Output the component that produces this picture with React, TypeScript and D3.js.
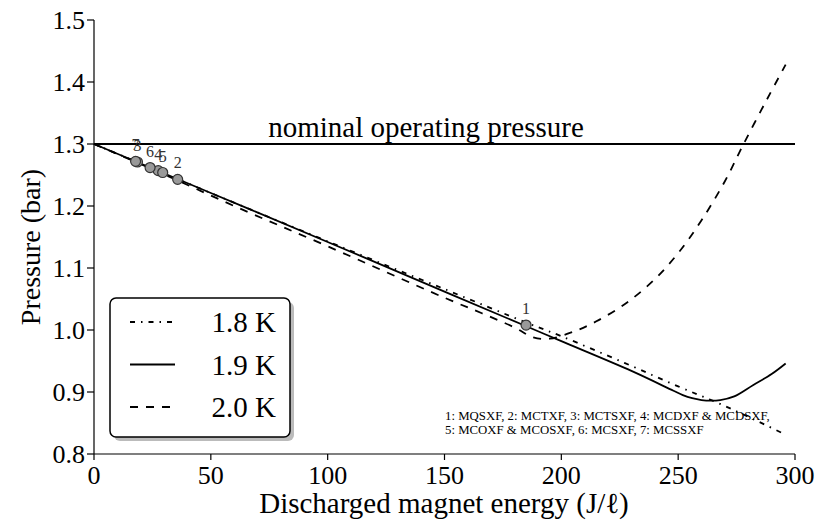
import React from "react";
import * as d3 from "d3";

const xTicks = [0, 50, 100, 150, 200, 250, 300];
const yTicks = [0.8, 0.9, 1.0, 1.1, 1.2, 1.3, 1.4, 1.5];

const series18: [number, number][] = [
  [0, 1.3], [50, 1.221], [100, 1.143], [150, 1.066], [185, 1.012], [200, 0.99],
  [227, 0.947], [250, 0.909], [266, 0.884], [280, 0.86], [295, 0.833],
];
const series19: [number, number][] = [
  [0, 1.3], [50, 1.221], [100, 1.142], [150, 1.062], [185, 1.006], [200, 0.982],
  [230, 0.934], [248, 0.902], [252, 0.895], [256, 0.89], [260, 0.887], [264, 0.886],
  [268, 0.887], [274, 0.893], [282, 0.911], [290, 0.929], [296, 0.946],
];
const series20: [number, number][] = [
  [0, 1.3], [30, 1.251], [60, 1.2], [100, 1.135], [150, 1.052], [166, 1.027],
  [180, 1.004], [188, 0.988], [195, 0.986], [205, 0.997], [215, 1.014], [228, 1.044],
  [240, 1.082], [250, 1.124], [260, 1.177], [270, 1.24], [278, 1.3], [288, 1.372], [296, 1.428],
];

const magnetIds = ["1", "2", "3", "4", "5", "6", "7"];
const magnetEnergy = [184.9, 35.8, 18.6, 27.5, 29.4, 24.0, 17.8];
const magnetPressure = [1.008, 1.243, 1.271, 1.257, 1.254, 1.262, 1.272];

const legendLabels = ["1.8 K", "1.9 K", "2.0 K"];
const legendDash = ["5,6,1.5,6", "", "8,8"];

const nominalPressure = 1.3;

export default function App() {
  const x = d3.scaleLinear().domain([0, 300]).range([94, 795]);
  const y = d3.scaleLinear().domain([0.8, 1.5]).range([454, 20]);
  const line = d3
    .line<[number, number]>()
    .x((d) => x(d[0]))
    .y((d) => y(d[1]))
    .curve(d3.curveCatmullRom.alpha(0.5));

  const tf = { fontFamily: "Liberation Serif, 'Times New Roman', serif" };
  const seriesList = [series18, series19, series20];

  return (
    <svg
      width={819}
      height={521}
      style={{ position: "absolute", left: 0, top: 0, background: "#fff" }}
    >
      <rect x={0} y={0} width={819} height={521} fill="#fff" />
      <line x1={x(0)} x2={x(300)} y1={y(nominalPressure)} y2={y(nominalPressure)} stroke="#000" strokeWidth={1.8} />
      <text x={426} y={137} fontSize={29} textAnchor="middle" style={tf}>nominal operating pressure</text>

      {seriesList.map((s, i) => (
        <path key={i} d={line(s) || ""} fill="none" stroke="#000" strokeWidth={1.8} strokeDasharray={legendDash[i] || undefined} />
      ))}

      {magnetIds.map((id, i) => (
        <g key={id}>
          <circle cx={x(magnetEnergy[i])} cy={y(magnetPressure[i])} r={5} fill="#999" stroke="#333" strokeWidth={1.2} />
          <text x={x(magnetEnergy[i])} y={y(magnetPressure[i]) - 11} fontSize={16} textAnchor="middle" fill="#333" style={tf}>{id}</text>
        </g>
      ))}

      <line x1={x(0)} x2={x(300)} y1={y(0.8)} y2={y(0.8)} stroke="#000" strokeWidth={1.2} />
      <line x1={x(0)} x2={x(0)} y1={y(0.8)} y2={y(1.5)} stroke="#000" strokeWidth={1.2} />
      {xTicks.map((t) => (
        <g key={t}>
          <line x1={x(t)} x2={x(t)} y1={y(0.8)} y2={y(0.8) + 6} stroke="#000" strokeWidth={1.2} />
          <text x={x(t)} y={y(0.8) + 30} fontSize={26} textAnchor="middle" style={tf}>{t}</text>
        </g>
      ))}
      {yTicks.map((t) => (
        <g key={t}>
          <line x1={x(0) - 7} x2={x(0)} y1={y(t)} y2={y(t)} stroke="#000" strokeWidth={1.2} />
          <text x={x(0) - 9} y={y(t) + 9} fontSize={26} textAnchor="end" style={tf}>{t.toFixed(1)}</text>
        </g>
      ))}
      <text x={444} y={513} fontSize={29} textAnchor="middle" style={tf}>Discharged magnet energy (J/ℓ)</text>
      <text transform={`translate(40,${247}) rotate(-90)`} fontSize={28} textAnchor="middle" style={tf}>Pressure (bar)</text>

      <rect x={114} y={302} width={180} height={139} rx={6} fill="#bbb" />
      <rect x={110} y={298} width={180} height={139} rx={6} fill="#fff" stroke="#000" strokeWidth={1.5} />
      {legendLabels.map((l, i) => (
        <g key={l}>
          <line x1={130} x2={175} y1={322 + i * 42.5} y2={322 + i * 42.5} stroke="#000" strokeWidth={1.8} strokeDasharray={legendDash[i] || undefined} />
          <text x={276} y={322 + i * 42.5 + 10} fontSize={29} textAnchor="end" style={tf}>{l}</text>
        </g>
      ))}

      <text x={445} y={420} fontSize={12.8} style={tf}>1: MQSXF, 2: MCTXF, 3: MCTSXF, 4: MCDXF &amp; MCDSXF,</text>
      <text x={445} y={434} fontSize={12.8} style={tf}>5: MCOXF &amp; MCOSXF, 6: MCSXF, 7: MCSSXF</text>
    </svg>
  );
}
